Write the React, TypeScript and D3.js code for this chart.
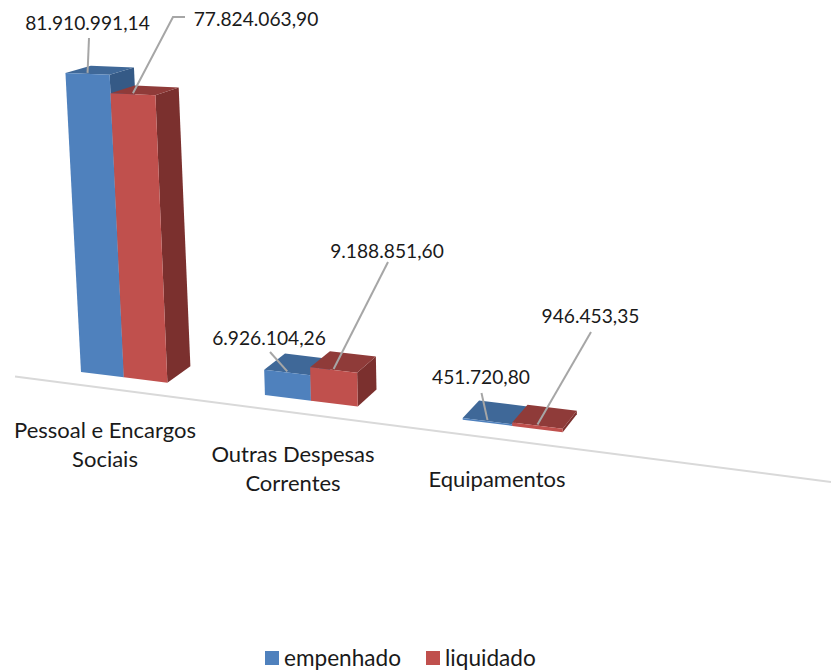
import React from "react";
import * as d3 from "d3";

const categories = ["Pessoal e Encargos|Sociais", "Outras Despesas|Correntes", "Equipamentos"];
const seriesNames = ["empenhado", "liquidado"];
const empenhado = [81910991.14, 6926104.26, 451720.8];
const liquidado = [77824063.9, 9188851.6, 946453.35];
const valueLabels = [
  ["81.910.991,14", "6.926.104,26", "451.720,80"],
  ["77.824.063,90", "9.188.851,60", "946.453,35"],
];

const W = 831, H = 670;
const FONT = "Lato, Carlito, sans-serif";
const FS_VALUE = 19.2;
const FS_TEXT = 22;
const FS_LEGEND = 22.6;
const colors = [
  { front: "#4f81bd", top: "#3f6898", side: "#355a86" },
  { front: "#c0504d", top: "#8f3b39", side: "#7b302e" },
];

// projection of the tilted 3D chart
const groupX = d3.scalePoint<number>().domain([0, 1, 2]).range([0, 2]);
const seriesX = d3.scaleBand<number>().domain([0, 1]).range([0, 0.4785]);
const heightPx = d3.scaleLinear().domain([0, 81910991.14]).range([0, 299]);
const screenX = (X: number) => 81 + (177.5 * X) / (1 - 0.035 * X);
const baseY = (x: number) => 372 + 0.125 * (x - 81);
const lean = (x: number) => 0.052 - 0.00012 * (x - 81);
const toBack = ([x, y]: number[]) => [x + 0.0225 * (1190 - x), y + 0.03 * (-167 - y)];

function corners(g: number, s: number, v: number) {
  const x0 = groupX(g)! + seriesX(s)!;
  const bl = screenX(x0), br = screenX(x0 + seriesX.bandwidth());
  const h = heightPx(v);
  const fb = [[bl, baseY(bl)], [br, baseY(br)]];
  const hr = h * 1.012;
  const ft = [
    [bl - h * lean(bl), baseY(bl) - h],
    [br - hr * lean(br), baseY(br) - hr],
  ];
  return { fbl: fb[0], fbr: fb[1], ftl: ft[0], ftr: ft[1] };
}

const poly = d3.line();
const pathOf = (pts: number[][]) => poly(pts as [number, number][]) + "Z";

// label centres + leader elbows, in the order of the series and groups
const labelPos = [
  [[87.5, 22], [269, 337], [481, 376]],
  [[256, 18], [387, 250], [590.5, 315]],
];
const leaderStart = [
  [[[89, 38]], [[270, 352]], [[481.5, 393]]],
  [[[185, 17], [173, 17]], [[388, 262]], [[591, 332]]],
];
const catPos = [[105, 429.5], [293, 453.5], [497, 478.5]];
const LINE_H = 28.5;

export default function App() {
  const values = [empenhado, liquidado];
  return (
    <svg width={W} height={H} viewBox={`0 0 ${W} ${H}`}
      style={{ position: "absolute", left: 0, top: 0, display: "block", background: "#fff" }}
      fontFamily={FONT} fill="#1a1a1a">
      <line x1={15} y1={376.5} x2={831} y2={482} stroke="#d9d9d9" strokeWidth={2} />
      {categories.map((_, g) => (
        <g key={g}>
          {values.map((vals, s) => {
            const c = corners(g, s, vals[g]);
            const col = colors[s];
            const btl = toBack(c.ftl), btr = toBack(c.ftr), bbr = toBack(c.fbr);
            return (
              <g key={s}>
                <path d={pathOf([c.ftr, btr, bbr, c.fbr])} fill={col.side} />
                <path d={pathOf([c.ftl, btl, btr, c.ftr])} fill={col.top} />
                <path d={pathOf([c.ftl, c.ftr, c.fbr, c.fbl])} fill={col.front} />
              </g>
            );
          })}
        </g>
      ))}
      {values.map((vals, s) =>
        vals.map((v, g) => {
          const c = corners(g, s, v);
          const end = [(c.ftl[0] + c.ftr[0]) / 2, (c.ftl[1] + c.ftr[1]) / 2 - 1];
          return (
            <path key={`${s}-${g}`} d={poly([...leaderStart[s][g], end] as [number, number][])!}
              fill="none" stroke="#a6a6a6" strokeWidth={2} />
          );
        })
      )}
      {values.map((vals, s) =>
        vals.map((_, g) => (
          <text key={`${s}-${g}`} x={labelPos[s][g][0]} y={labelPos[s][g][1]} fontSize={FS_VALUE}
            textAnchor="middle" dominantBaseline="central">{valueLabels[s][g]}</text>
        ))
      )}
      {categories.map((cat, g) =>
        cat.split("|").map((line, i) => (
          <text key={`${g}-${i}`} x={catPos[g][0]} y={catPos[g][1] + i * LINE_H} fontSize={FS_TEXT}
            textAnchor="middle" dominantBaseline="central">{line}</text>
        ))
      )}
      {seriesNames.map((name, s) => {
        const sx = [265, 426][s];
        return (
          <g key={name}>
            <rect x={sx} y={651} width={14} height={14} fill={colors[s].front} />
            <text x={sx + 19} y={657} fontSize={FS_LEGEND} dominantBaseline="central">{name}</text>
          </g>
        );
      })}
    </svg>
  );
}
